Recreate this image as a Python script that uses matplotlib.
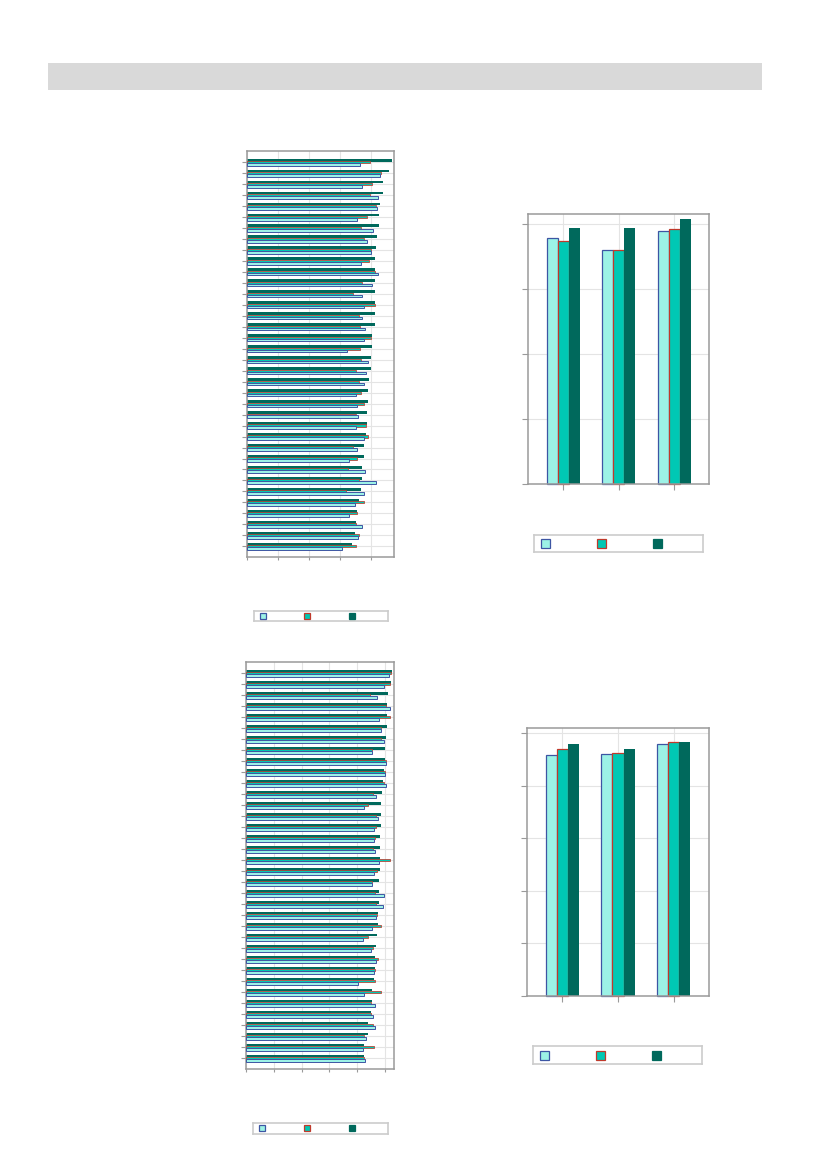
import numpy as np
import matplotlib
matplotlib.use('Agg')
import matplotlib.pyplot as plt
from matplotlib.lines import Line2D
from matplotlib.patches import Rectangle

W, H = 827, 1169

LIGHT = '#9CF2E6'
LIGHT_EDGE = '#3D55A3'
TEAL = '#00C8B4'
TEAL_EDGE = '#C0392B'
DARK = '#00695C'
SPINE = '#9A9A9A'
GRID = '#E4E4E4'
BOX = '#CCCCCC'

# horizontal chart, top left (36 groups)
top_light = [72.9, 86.0, 74.4, 84.7, 84.1, 71.2, 81.5, 77.6, 80.2, 73.8, 84.7, 80.9,
             74.4, 75.1, 74.4, 76.3, 75.7, 64.7, 78.3, 77.0, 75.1, 70.5, 71.2, 71.8,
             70.5, 75.7, 71.2, 66.0, 76.3, 83.4, 75.7, 69.9, 66.0, 74.4, 71.8, 60.9]
top_teal = [79.6, 86.7, 80.9, 79.6, 83.4, 77.6, 73.8, 75.1, 80.2, 78.9, 82.8, 74.4,
            68.6, 82.8, 72.5, 73.1, 80.2, 73.1, 73.8, 70.5, 72.5, 73.8, 75.7, 70.5,
            77.0, 78.3, 68.0, 71.2, 65.4, 72.5, 64.1, 75.7, 71.2, 70.5, 72.5, 70.5]
top_dark = [93.3, 91.4, 87.5, 87.5, 85.6, 84.9, 84.9, 83.7, 83.0, 82.4, 82.4, 82.4,
            82.4, 82.4, 82.4, 82.4, 80.4, 80.4, 79.8, 79.8, 78.5, 77.8, 77.8, 77.2,
            77.2, 76.6, 75.3, 75.3, 74.0, 74.0, 73.3, 72.0, 71.2, 70.1, 69.5, 67.5]

# horizontal chart, bottom left
bot_light = [102.9, 99.3, 94.7, 104.1, 96.1, 97.6, 99.3, 91.1, 101.2, 100.0, 101.2, 94.0,
             84.8, 95.4, 92.5, 92.5, 93.3, 96.1, 92.5, 91.1, 99.8, 99.0, 94.0, 91.1,
             84.1, 90.4, 94.0, 92.5, 80.5, 84.8, 93.3, 91.8, 93.3, 86.7, 84.6, 86.0]
bot_teal = [104.6, 104.1, 89.2, 101.0, 104.1, 97.6, 97.6, 91.1, 100.7, 100.0, 99.5, 91.8,
            87.7, 94.0, 94.0, 93.3, 91.8, 103.6, 94.7, 91.1, 93.3, 94.0, 94.7, 97.6,
            87.7, 91.3, 95.4, 93.3, 93.3, 97.6, 90.4, 90.4, 91.8, 85.3, 92.5, 84.8]
bot_dark = [105.3, 104.6, 102.4, 101.7, 101.7, 101.7, 101.0, 100.2, 100.2, 99.5, 98.8, 98.1,
            97.3, 97.3, 97.3, 96.6, 96.6, 96.6, 96.6, 95.9, 95.9, 95.9, 95.2, 95.2,
            94.5, 93.7, 93.0, 93.0, 92.3, 90.8, 90.8, 90.1, 88.0, 88.0, 84.8, 84.8]

# column charts on the right (3 groups)
tr_light = [94.6, 90.0, 97.3]
tr_teal = [93.5, 90.0, 98.1]
tr_dark = [98.6, 98.6, 102.1]

br_light = [91.6, 92.0, 95.8]
br_teal = [93.9, 92.4, 96.6]
br_dark = [95.9, 94.0, 96.7]


def px_axes(fig, x0, y0, x1, y1):
    '''axes placed by pixel box (left, top, right, bottom)'''
    return fig.add_axes([x0 / W, 1 - y1 / H, (x1 - x0) / W, (y1 - y0) / H])


def style_axes(ax, tlen_x, tlen_y):
    for s in ax.spines.values():
        s.set_color(SPINE)
        s.set_linewidth(1.1)
    ax.tick_params(axis='x', length=tlen_x, width=0.8, color=SPINE,
                   labelbottom=False)
    ax.tick_params(axis='y', length=tlen_y, width=0.8, color=SPINE,
                   labelleft=False)
    ax.grid(True, color=GRID, linewidth=0.8)
    ax.set_axisbelow(True)


def hbar_chart(ax, light, teal, dark, xmax):
    y = np.arange(len(dark))
    ax.barh(y - 0.2, dark, height=0.26, color=DARK, linewidth=0, zorder=2)
    ax.barh(y + 0.0, teal, height=0.2, color=TEAL, edgecolor=TEAL_EDGE,
            linewidth=0.55, zorder=3)
    ax.barh(y + 0.2, light, height=0.24, color=LIGHT, edgecolor=LIGHT_EDGE,
            linewidth=0.7, zorder=4)
    ax.set_yticks(y)
    ax.set_xticks(np.arange(0, xmax, 20))
    ax.set_xlim(0, xmax)
    ax.set_ylim(len(dark) - 0.05, -1.0)
    style_axes(ax, 2.5, 3.3)


def vbar_chart(ax, light, teal, dark, ymax, step):
    x = np.arange(len(dark))
    ax.bar(x - 0.2, light, width=0.2, color=LIGHT, edgecolor=LIGHT_EDGE,
           linewidth=0.9, zorder=2, clip_on=False)
    ax.bar(x, teal, width=0.2, color=TEAL, edgecolor=TEAL_EDGE,
           linewidth=0.9, zorder=2, clip_on=False)
    ax.bar(x + 0.2, dark, width=0.2, color=DARK, linewidth=0, zorder=2,
           clip_on=False)
    ax.set_xticks(x)
    ax.set_yticks(np.arange(0, 100.1, step))
    ax.set_xlim(-0.63, len(dark) - 1 + 0.63)
    ax.set_ylim(0, ymax)
    style_axes(ax, 4.0, 4.3)


def legend_box(fig, box, msize, first, spacing):
    '''legend without text: a framed strip with three square keys'''
    lax = px_axes(fig, *box)
    lax.set_xticks([])
    lax.set_yticks([])
    for s in lax.spines.values():
        s.set_color(BOX)
        s.set_linewidth(1.2)
    fs = 6.0
    fpx = fs * 100 / 72
    handles = [
        Line2D([], [], marker='s', linestyle='none', markersize=msize * 0.72,
               markerfacecolor=LIGHT, markeredgecolor=LIGHT_EDGE, markeredgewidth=0.9),
        Line2D([], [], marker='s', linestyle='none', markersize=msize * 0.72,
               markerfacecolor=TEAL, markeredgecolor=TEAL_EDGE, markeredgewidth=0.9),
        Line2D([], [], marker='s', linestyle='none', markersize=msize * 0.72,
               markerfacecolor=DARK, markeredgecolor=DARK, markeredgewidth=0.9),
    ]
    hl = 2 * first / fpx
    lax.legend(handles, ['', '', ''], ncol=3, loc='center left', frameon=False,
               fontsize=fs, borderaxespad=0, borderpad=0, handlelength=hl,
               handletextpad=0, columnspacing=(spacing - 2 * first) / fpx)


fig = plt.figure(figsize=(W / 100, H / 100), dpi=100)

# grey header band
fig.patches.append(Rectangle((48 / W, 1 - 90.3 / H), (762 - 48) / W, 27 / H,
                             transform=fig.transFigure, facecolor='#D9D9D9',
                             edgecolor='none'))

ax1 = px_axes(fig, 247.3, 151.3, 394.3, 556.7)
hbar_chart(ax1, top_light, top_teal, top_dark, 95.0)
legend_box(fig, (254.3, 611.3, 388.3, 621.3), 6.0, 8.5, 44.5)

ax2 = px_axes(fig, 246.3, 662.3, 394.0, 1068.7)
hbar_chart(ax2, bot_light, bot_teal, bot_dark, 106.7)
legend_box(fig, (253.3, 1123.3, 387.7, 1134.3), 6.5, 9.0, 44.6)

ax3 = px_axes(fig, 528.3, 214.3, 709.3, 484.3)
vbar_chart(ax3, tr_light, tr_teal, tr_dark, 103.8, 25)
legend_box(fig, (534.3, 535.3, 703.3, 552.0), 9.0, 10.5, 56.0)

ax4 = px_axes(fig, 527.3, 728.3, 708.7, 996.0)
vbar_chart(ax4, br_light, br_teal, br_dark, 101.9, 20)
legend_box(fig, (533.3, 1046.3, 702.3, 1064.3), 9.0, 10.5, 56.0)

fig.savefig('out.png', dpi=100)
